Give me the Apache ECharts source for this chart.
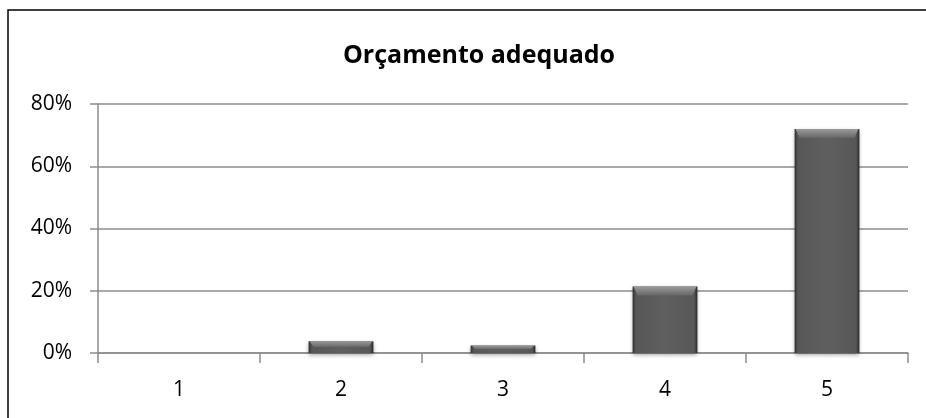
<!DOCTYPE html>
<html>
<head>
<meta charset="utf-8">
<script src="https://cdn.jsdelivr.net/npm/echarts@6/dist/echarts.min.js"></script>
<style>
  html, body { margin: 0; padding: 0; background: #fff; }
  #chart { width: 926px; height: 418px; }
</style>
</head>
<body>
<div id="chart"></div>
<script>
// Chart data
const chartTitle = 'Orçamento adequado';
const categories = ['1', '2', '3', '4', '5'];
const shares = [0, 0.038, 0.024, 0.214, 0.72];
const yTicks = { min: 0, max: 0.8, interval: 0.2 };

const chart = echarts.init(document.getElementById('chart'), null, { renderer: 'canvas' });

// Bevelled column: body, lighter top facet, darker side edges
function renderColumn(params, api) {
  const idx = api.value(0);
  const val = api.value(1);
  if (!val) return null;
  const top = api.coord([idx, val]);
  const base = api.coord([idx, 0]);
  const w = api.size([1, 0])[0] * 0.4;
  const x0 = top[0] - w / 2, x1 = top[0] + w / 2;
  const y0 = top[1], y1 = base[1];
  const h = y1 - y0;
  const t = Math.min(9, h / 2);
  const s = Math.min(5, w / 4);
  return {
    type: 'group',
    children: [
      {
        type: 'rect',
        shape: { x: x0, y: y0, width: w, height: h },
        style: {
          fill: new echarts.graphic.LinearGradient(0, 0, 1, 0, [
            { offset: 0, color: '#2f2f2f' },
            { offset: 0.05, color: '#575757' },
            { offset: 0.5, color: '#5f5f5f' },
            { offset: 0.95, color: '#575757' },
            { offset: 1, color: '#262626' }
          ]),
          shadowColor: 'rgba(0,0,0,0.35)',
          shadowBlur: 4,
          shadowOffsetY: 2
        }
      },
      {
        type: 'polygon',
        shape: { points: [[x0 + 1, y0], [x1 - 1, y0], [x1 - s, y0 + t], [x0 + s, y0 + t]] },
        style: {
          fill: new echarts.graphic.LinearGradient(0, 0, 0, 1, [
            { offset: 0, color: '#9c9c9c' },
            { offset: 1, color: '#666666' }
          ])
        }
      }
    ]
  };
}

chart.setOption({
  animation: false,
  backgroundColor: '#fff',
  title: {
    text: chartTitle,
    left: 474,
    textAlign: 'center',
    top: 38,
    textStyle: { fontFamily: 'Open Sans', fontWeight: 'bold', fontSize: 25, color: '#000' }
  },
  graphic: [{
    type: 'rect',
    shape: { x: 8, y: 10, width: 1000, height: 500 },
    style: { fill: 'none', stroke: '#000', lineWidth: 1.5 },
    z: 100
  }],
  grid: { left: 98, right: 18, top: 104, bottom: 65 },
  xAxis: {
    type: 'category',
    data: categories,
    axisLine: { lineStyle: { color: '#8c8c8c', width: 1.5 } },
    axisTick: { show: true, length: 10, lineStyle: { color: '#8c8c8c', width: 1.5 } },
    axisLabel: { color: '#000', fontFamily: 'Open Sans', fontSize: 21, margin: 27 }
  },
  yAxis: {
    type: 'value',
    min: yTicks.min,
    max: yTicks.max,
    interval: yTicks.interval,
    axisLine: { show: true, lineStyle: { color: '#8c8c8c', width: 1.5 } },
    axisTick: { show: true, length: 8, lineStyle: { color: '#8c8c8c', width: 1.5 } },
    splitLine: { lineStyle: { color: '#8c8c8c', width: 1.5 } },
    axisLabel: {
      color: '#000', fontFamily: 'Open Sans', fontSize: 21, margin: 26,
      formatter: v => Math.round(v * 100) + '%'
    }
  },
  series: [{
    type: 'custom',
    renderItem: renderColumn,
    encode: { x: 0, y: 1 },
    data: shares.map((v, i) => [i, v]),
    z: 3
  }]
});
</script>
</body>
</html>
